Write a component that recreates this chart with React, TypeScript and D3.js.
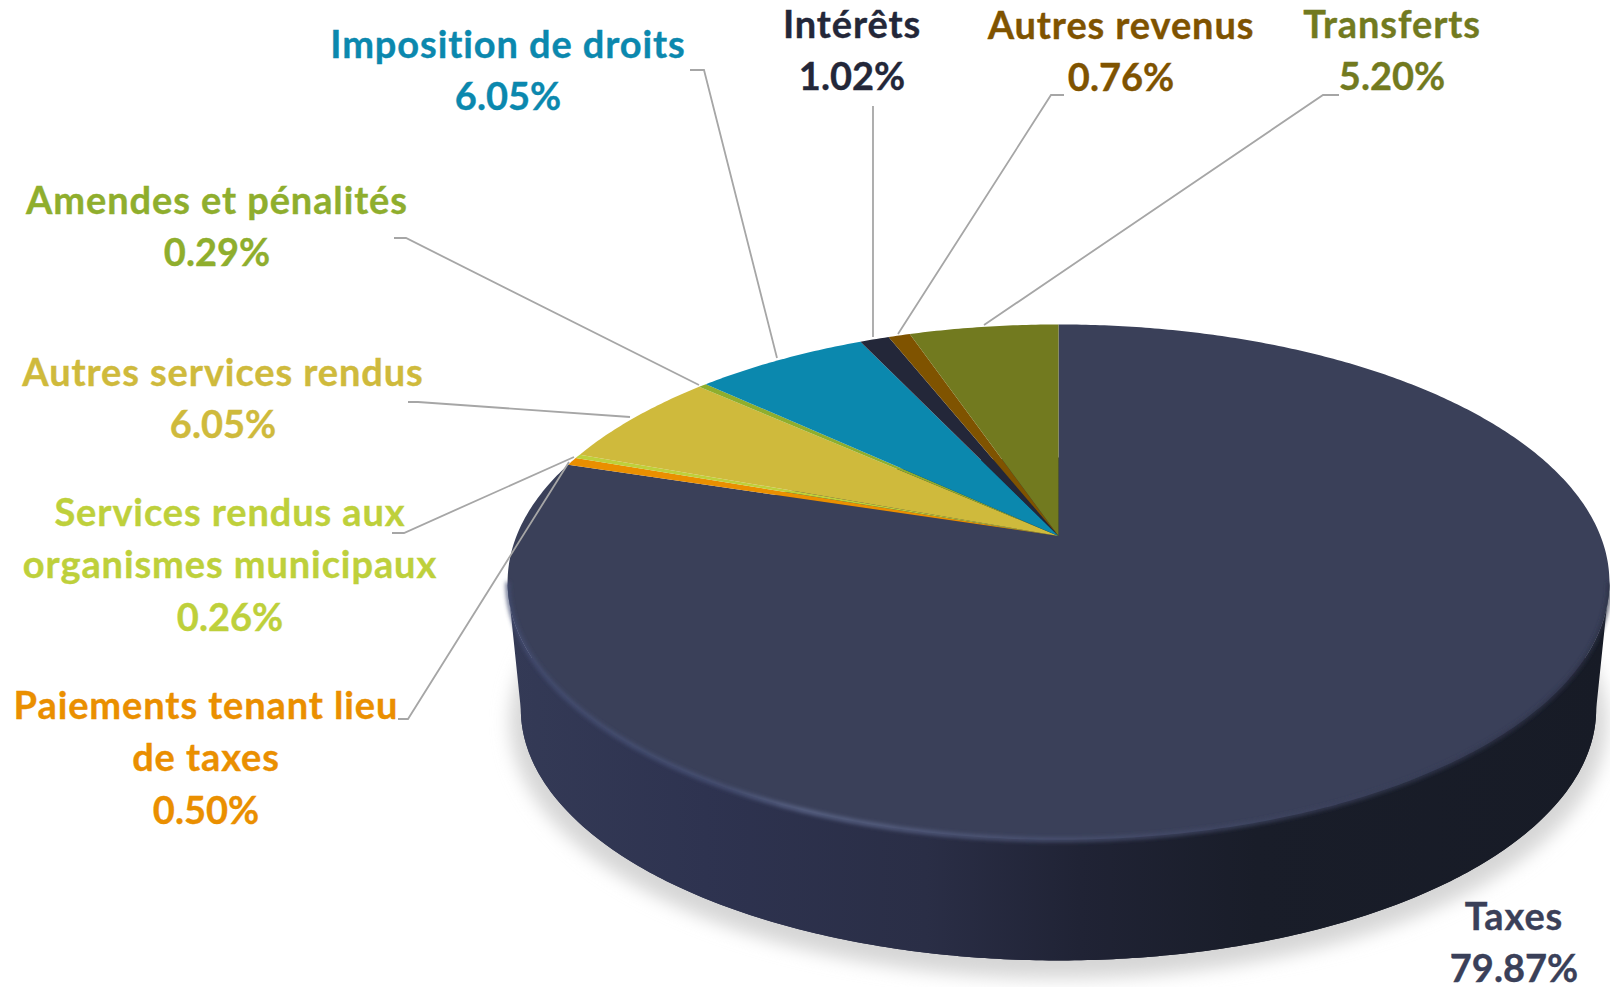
import React from "react";
import * as d3 from "d3";

const categories = [
  "Taxes",
  "Paiements tenant lieu de taxes",
  "Services rendus aux organismes municipaux",
  "Autres services rendus",
  "Amendes et pénalités",
  "Imposition de droits",
  "Intérêts",
  "Autres revenus",
  "Transferts",
];
const values = [79.87, 0.5, 0.26, 6.05, 0.29, 6.05, 1.02, 0.76, 5.2];
const colors = ["#3a4059", "#ea8f00", "#bed03b", "#cfba3c", "#8fae2d", "#0b88ae", "#232739", "#7f5300", "#727a1f"];

const labelLines = [
  ["Taxes"],
  ["Paiements tenant lieu", "de taxes"],
  ["Services rendus aux", "organismes municipaux"],
  ["Autres services rendus"],
  ["Amendes et pénalités"],
  ["Imposition de droits"],
  ["Intérêts"],
  ["Autres revenus"],
  ["Transferts"],
];

// label anchor: centre x, first baseline
const labelPos = [
  [1514, 930], [206, 719], [230, 526], [223, 386], [217, 214], [508, 58], [852, 38], [1121, 39], [1392, 38],
];
const leaders: (number[][] | null)[] = [
  null,
  [[398, 719], [408, 719], [569, 462]],
  [[392, 533], [404, 533], [574, 457]],
  [[408, 402], [418, 402], [630, 417]],
  [[394, 238], [406, 238], [699, 385]],
  [[690, 70], [704, 70], [777, 358]],
  [[873, 106], [873, 337]],
  [[1064, 95], [1051, 95], [898, 334]],
  [[1339, 95], [1323, 95], [984, 325]],
];

const width = 1610;
const height = 987;

// pie lying in perspective: near edge is stretched, apex sits above ellipse centre
const cx = 1058.5;
const apexY = 536;
const radiusX = 542;
const radiusY = 249.4;
const persp = 0.179;

const ring = (scale: number, top: number) => (a: number): [number, number] => {
  const w = 1 + persp * Math.cos(a);
  return [cx + (scale * radiusX * Math.sin(a)) / w, top - (scale * radiusY * Math.cos(a)) / w];
};
const topRing = ring(1, apexY);
const bottomRing = ring(0.976, 664);
const shadowRing = ring(0.995, 676);

const line = d3.line();
const sweep = (a0: number, a1: number) => {
  const n = Math.max(2, Math.ceil(Math.abs(a1 - a0) / 0.01));
  return d3.range(n + 1).map((i) => a0 + ((a1 - a0) * i) / n);
};
const TAU = Math.PI * 2;

export default function App() {
  const arcs = d3.pie<number>().sort(null)(values);
  const edge = Math.acos(-persp); // angle where the outline is widest

  const sidePts = [
    ...sweep(edge, TAU - edge).map(topRing),
    ...sweep(TAU - edge, edge).map(bottomRing),
  ];
  const rimPts = sweep(edge, TAU - edge).map(topRing);

  return (
    <svg
      width={width}
      height={height}
      style={{ position: "absolute", left: 0, top: 0, display: "block" }}
      fontFamily="Lato, 'Open Sans', sans-serif"
      fontWeight={700}
    >
      <defs>
        <linearGradient id="side" gradientUnits="userSpaceOnUse" x1={507} x2={1609} y1={0} y2={0}>
          <stop offset="0" stopColor="#343a56" />
          <stop offset="0.18" stopColor="#2e3350" />
          <stop offset="0.38" stopColor="#2a2e46" />
          <stop offset="0.52" stopColor="#202335" />
          <stop offset="0.68" stopColor="#191d29" />
          <stop offset="1" stopColor="#171b26" />
        </linearGradient>
        <linearGradient id="rim" gradientUnits="userSpaceOnUse" x1={507} x2={1609} y1={0} y2={0}>
          <stop offset="0" stopColor="#454f75" />
          <stop offset="0.2" stopColor="#4d577c" />
          <stop offset="0.27" stopColor="#667196" />
          <stop offset="0.45" stopColor="#525b7e" />
          <stop offset="0.7" stopColor="#3f4562" />
          <stop offset="1" stopColor="#2b2f44" />
        </linearGradient>
        <filter id="soft" x="-5%" y="-5%" width="110%" height="110%">
          <feGaussianBlur stdDeviation="9" />
        </filter>
        <filter id="softRim" x="-5%" y="-5%" width="110%" height="110%">
          <feGaussianBlur stdDeviation="2" />
        </filter>
      </defs>

      <path d={line(sweep(0, TAU).map(shadowRing)) + "Z"} fill="#d6d6d6" filter="url(#soft)" />

      <path d={line(sweep(0, TAU).map(bottomRing)) + "Z"} fill="url(#side)" />
      <path d={line(sidePts) + "Z"} fill="url(#side)" />

      {arcs.map((d, i) => (
        <path
          key={categories[i]}
          d={line([[cx, apexY], ...sweep(d.startAngle, d.endAngle).map(topRing)]) + "Z"}
          fill={colors[i]}
        />
      ))}

      <path d={line(rimPts)!} fill="none" stroke="url(#rim)" strokeWidth={3.5} filter="url(#softRim)" />

      {leaders.map((pts, i) =>
        pts ? (
          <path
            key={categories[i]}
            d={line(pts as [number, number][])!}
            fill="none"
            stroke="#a6a6a6"
            strokeWidth={1.8}
          />
        ) : null
      )}

      {categories.map((name, i) => {
        const [x, y] = labelPos[i];
        const rows = labelLines[i];
        return (
          <text key={name} textAnchor="middle" fontSize={38} fill={colors[i]} stroke={colors[i]} strokeWidth={0.35}>
            {rows.map((row, j) => (
              <tspan key={j} x={x} y={y + j * 52.4} letterSpacing={0.9}>
                {row}
              </tspan>
            ))}
            <tspan x={x} y={y + rows.length * 52.4}>
              {values[i].toFixed(2)}%
            </tspan>
          </text>
        );
      })}
    </svg>
  );
}
